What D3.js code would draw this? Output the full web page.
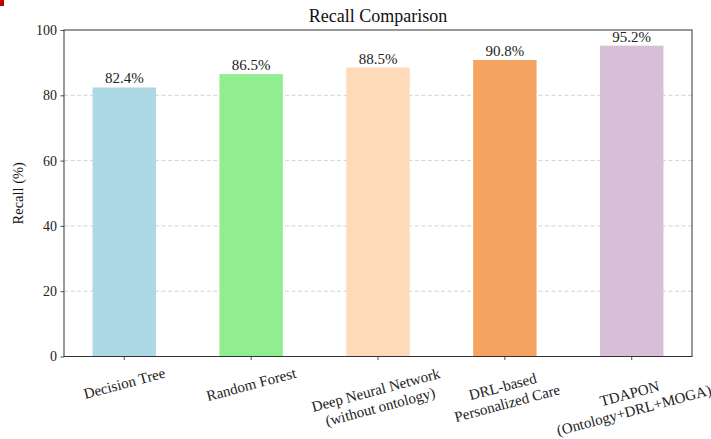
<!DOCTYPE html>
<html><head><meta charset="utf-8">
<script src="https://cdn.jsdelivr.net/npm/d3@7"></script>
<style>
body{margin:0;background:#fff;}
svg{display:block;}
svg text{font-family:"Liberation Serif","Times New Roman",serif;}
</style></head>
<body>
<svg id="chart" width="711" height="439"></svg>
<script>
const categories = ["Decision Tree","Random Forest","Deep Neural Network\n(without ontology)","DRL-based\nPersonalized Care","TDAPON\n(Ontology+DRL+MOGA)"];
const recall = [82.4, 86.5, 88.5, 90.8, 95.2];
const colors = ["#add8e6","#90ee90","#ffdab9","#f4a460","#d8bfd8"];
const yTicks = [0,20,40,60,80,100];
const title = "Recall Comparison";
const yLabel = "Recall (%)";

const FONT = "Liberation Serif, Times New Roman, serif";
const svg = d3.select("#chart");
const m = {left:64, right:692, top:30, bottom:356.5};

svg.append("rect").attr("x",0).attr("y",0).attr("width",4).attr("height",6).attr("fill","#c00000");

const x = d3.scaleBand().domain(categories).range([m.left, m.right]).paddingInner(0.5).paddingOuter(0.225);
const y = d3.scaleLinear().domain([0,100]).range([m.bottom, m.top]);

// grid
svg.append("g").selectAll("line").data(yTicks.filter(t=>t>0&&t<100)).join("line")
  .attr("x1",m.left).attr("x2",m.right).attr("y1",d=>y(d)).attr("y2",d=>y(d))
  .attr("stroke","#c8c8c8").attr("stroke-width",0.8).attr("stroke-dasharray","4,2.5");

// bars
svg.append("g").selectAll("rect").data(categories).join("rect")
  .attr("x",d=>x(d)).attr("width",x.bandwidth())
  .attr("y",(d,i)=>y(recall[i])).attr("height",(d,i)=>y(0)-y(recall[i]))
  .attr("fill",(d,i)=>colors[i]);

// value labels
svg.append("g").selectAll("text").data(categories).join("text")
  .attr("x",d=>x(d)+x.bandwidth()/2).attr("y",(d,i)=>y(recall[i])-4)
  .attr("text-anchor","middle").attr("font-family",FONT).attr("font-size",15).attr("fill","#222")
  .text((d,i)=>recall[i].toFixed(1)+"%");

// axes
const yAxis = d3.axisLeft(y).tickValues(yTicks).tickSize(3.5).tickPadding(3.5).tickFormat(d3.format("d"));
const gy = svg.append("g").attr("transform",`translate(${m.left},0)`).call(yAxis).attr("font-family",FONT);
gy.select(".domain").remove();
gy.selectAll("text").attr("font-size",14).attr("font-family",FONT).attr("fill","#222");
gy.selectAll("line").attr("stroke","#222").attr("stroke-width",0.8);

const xAxis = d3.axisBottom(x).tickSize(3.5).tickFormat("");
const gx = svg.append("g").attr("transform",`translate(0,${m.bottom})`).call(xAxis);
gx.select(".domain").remove();
gx.selectAll("line").attr("stroke","#222").attr("stroke-width",0.8);

// x labels rotated
const lg = svg.append("g");
categories.forEach((c,i)=>{
  const lines = c.split("\n");
  const g = lg.append("g");
  const t = g.append("text").attr("text-anchor","middle").attr("font-family",FONT).attr("font-size",15).attr("fill","#222");
  const lh = 15*1.15;
  lines.forEach((l,j)=>{
    t.append("tspan").attr("x",0).attr("y",(j-(lines.length-1)/2)*lh).attr("dy","0.35em").text(l);
  });
  const bb = t.node().getBBox();
  const w = bb.width, h = bb.height;
  const a = 15*Math.PI/180;
  const halfH = (w*Math.sin(a)+h*Math.cos(a))/2;
  const cx = x(c)+x.bandwidth()/2;
  g.attr("transform",`translate(${cx},${m.bottom+8+halfH}) rotate(-15)`);
});

// spines
svg.append("rect").attr("x",m.left).attr("y",m.top).attr("width",m.right-m.left).attr("height",m.bottom-m.top)
  .attr("fill","none").attr("stroke","#333").attr("stroke-width",1);

// title
svg.append("text").attr("x",(m.left+m.right)/2).attr("y",22).attr("text-anchor","middle")
  .attr("font-family",FONT).attr("font-size",18).attr("fill","#111").text(title);

// y label
svg.append("text").attr("transform",`translate(23,${(m.top+m.bottom)/2}) rotate(-90)`)
  .attr("text-anchor","middle").attr("font-family",FONT).attr("font-size",14.5).attr("fill","#111").text(yLabel);
</script>
</body></html>
